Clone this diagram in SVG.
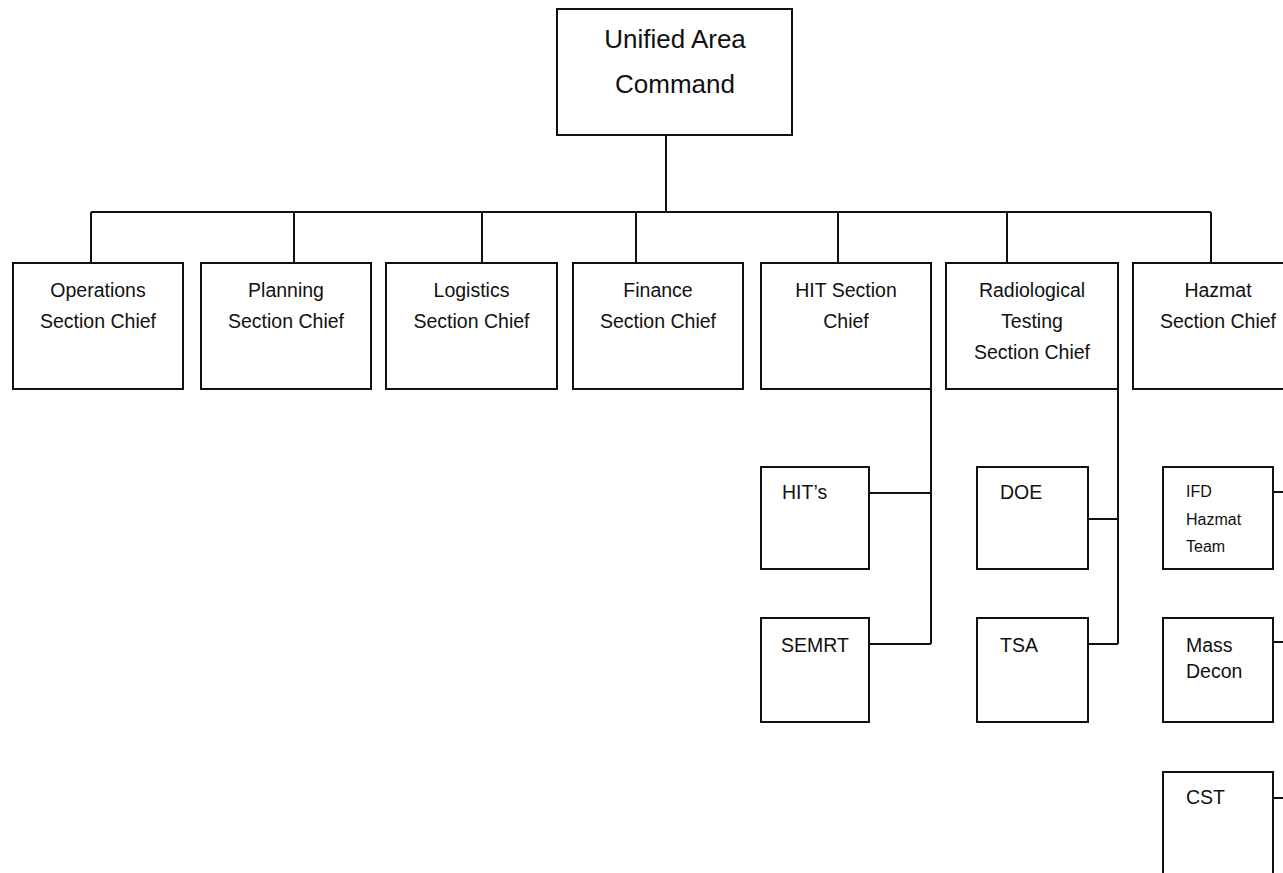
<svg xmlns="http://www.w3.org/2000/svg" width="1283" height="873" viewBox="0 0 1283 873">
<style>
.box{fill:#fff;stroke:#111;stroke-width:2}
.ln{fill:none;stroke:#111;stroke-width:2}
text{font-family:"Liberation Sans",Arial,sans-serif;fill:#111}
.c{text-anchor:middle;font-size:19.5px}
.t{text-anchor:middle;font-size:26px}
.l{font-size:19.5px}
.s{font-size:16px}
</style>
<rect width="1283" height="873" fill="#fff"/>
<g id="connectors" class="ln">
<path d="M666 135V212M91 212H1211M91 212V263M294 212V263M482 212V263M636 212V263M838 212V263M1007 212V263M1211 212V263"/>
<path d="M931 389V644M869 493H931M869 644H931"/>
<path d="M1118 389V644M1088 519H1118M1088 644H1118"/>
<path d="M1303 389V798M1273 492H1303M1273 642H1303M1273 798H1303"/>
</g>
<g id="unified"><rect class="box" x="557" y="9" width="235" height="126"/><text class="t" x="675" y="48">Unified Area</text><text class="t" x="675" y="93">Command</text></g>
<g id="operations"><rect class="box" x="13" y="263" width="170" height="126"/><text class="c" x="98" y="297">Operations</text><text class="c" x="98" y="328">Section Chief</text></g>
<g id="planning"><rect class="box" x="201" y="263" width="170" height="126"/><text class="c" x="286" y="297">Planning</text><text class="c" x="286" y="328">Section Chief</text></g>
<g id="logistics"><rect class="box" x="386" y="263" width="171" height="126"/><text class="c" x="471.5" y="297">Logistics</text><text class="c" x="471.5" y="328">Section Chief</text></g>
<g id="finance"><rect class="box" x="573" y="263" width="170" height="126"/><text class="c" x="658" y="297">Finance</text><text class="c" x="658" y="328">Section Chief</text></g>
<g id="hit"><rect class="box" x="761" y="263" width="170" height="126"/><text class="c" x="846" y="297">HIT Section</text><text class="c" x="846" y="328">Chief</text></g>
<g id="radiological"><rect class="box" x="946" y="263" width="172" height="126"/><text class="c" x="1032" y="297">Radiological</text><text class="c" x="1032" y="328">Testing</text><text class="c" x="1032" y="359">Section Chief</text></g>
<g id="hazmat"><rect class="box" x="1133" y="263" width="170" height="126"/><text class="c" x="1218" y="297">Hazmat</text><text class="c" x="1218" y="328">Section Chief</text></g>
<g id="hits"><rect class="box" x="761" y="467" width="108" height="102"/><text class="l" x="782" y="499">HIT’s</text></g>
<g id="semrt"><rect class="box" x="761" y="618" width="108" height="104"/><text class="l" x="781" y="652">SEMRT</text></g>
<g id="doe"><rect class="box" x="977" y="467" width="111" height="102"/><text class="l" x="1000" y="499">DOE</text></g>
<g id="tsa"><rect class="box" x="977" y="618" width="111" height="104"/><text class="l" x="1000" y="652">TSA</text></g>
<g id="ifd"><rect class="box" x="1163" y="467" width="110" height="102"/><text class="s" x="1186" y="497">IFD</text><text class="s" x="1186" y="525">Hazmat</text><text class="s" x="1186" y="552">Team</text></g>
<g id="massdecon"><rect class="box" x="1163" y="618" width="110" height="104"/><text class="l" x="1186" y="652">Mass</text><text class="l" x="1186" y="678">Decon</text></g>
<g id="cst"><rect class="box" x="1163" y="772" width="110" height="110"/><text class="l" x="1186" y="804">CST</text></g>
</svg>
